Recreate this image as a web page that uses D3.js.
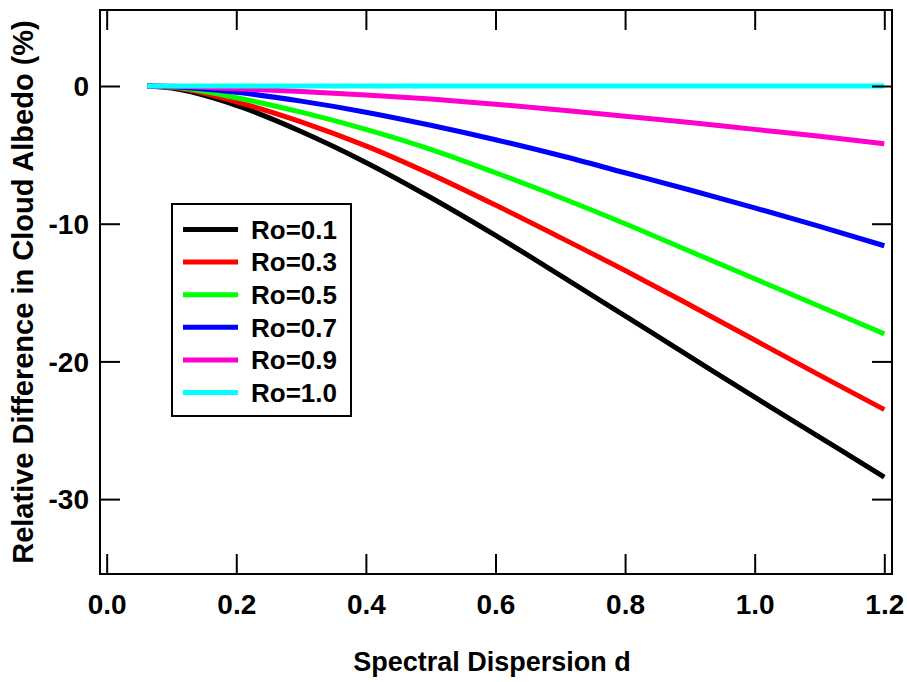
<!DOCTYPE html>
<html>
<head>
<meta charset="utf-8">
<script src="https://cdn.jsdelivr.net/npm/d3@7"></script>
<style>
  html, body { margin: 0; padding: 0; background: #fff; }
  svg { display: block; }
  text { font-family: Arial, "Liberation Sans", Helvetica, sans-serif; font-weight: bold; fill: #000; }
</style>
</head>
<body>
<svg id="chart" width="907" height="682"></svg>
<script>
// ---- data ----
const dispersion = [0.0625, 0.1, 0.2, 0.3, 0.4, 0.5, 0.6, 0.7, 0.8, 0.9, 1.0, 1.1, 1.2];
const seriesNames = ["Ro=0.1", "Ro=0.3", "Ro=0.5", "Ro=0.7", "Ro=0.9", "Ro=1.0"];
const ro01 = [0, -0.15, -1.4, -3.3, -5.55, -8.1, -10.85, -13.75, -16.7, -19.65, -22.6, -25.5, -28.4];
const ro03 = [0, -0.1, -1.15, -2.6, -4.35, -6.4, -8.65, -11.0, -13.4, -15.9, -18.45, -21.0, -23.5];
const ro05 = [0, -0.08, -0.85, -1.9, -3.15, -4.6, -6.3, -8.1, -10.0, -12.0, -14.0, -16.0, -18.0];
const ro07 = [0, -0.05, -0.45, -1.1, -1.9, -2.85, -3.9, -5.05, -6.3, -7.55, -8.85, -10.2, -11.6];
const ro09 = [0, -0.02, -0.2, -0.4, -0.65, -0.95, -1.32, -1.75, -2.2, -2.65, -3.15, -3.65, -4.2];
const ro10 = [0, 0, 0, 0, 0, 0, 0, 0, 0, 0, 0, 0, 0];
const seriesValues = [ro01, ro03, ro05, ro07, ro09, ro10];
const seriesColors = ["#000000", "#ff0000", "#00ff00", "#0000ff", "#ff00cc", "#00ffff"];
const xTicks = [0.0, 0.2, 0.4, 0.6, 0.8, 1.0, 1.2];
const xTickLabels = ["0.0", "0.2", "0.4", "0.6", "0.8", "1.0", "1.2"];
const yTicks = [0, -10, -20, -30];
const yTickLabels = ["0", "-10", "-20", "-30"];
const xTitle = "Spectral Dispersion d";
const yTitle = "Relative Difference in Cloud Albedo (%)";

// ---- layout ----
const plotLeft = 100, plotRight = 892, plotTop = 10, plotBottom = 574;
const svg = d3.select("#chart");
const x = d3.scaleLinear().domain([-0.0103, 1.2119]).range([plotLeft, plotRight]);
const y = d3.scaleLinear().domain([-35.44, 5.52]).range([plotBottom, plotTop]);

// series lines
const line = d3.line()
  .x((d, i) => x(dispersion[i]))
  .y(d => y(d))
  .curve(d3.curveMonotoneX);

svg.append("g").selectAll("path")
  .data(seriesValues)
  .join("path")
  .attr("d", d => line(d))
  .attr("fill", "none")
  .attr("stroke", (d, i) => seriesColors[i])
  .attr("stroke-width", 5);

// axes with inward ticks
const tickLen = 20;
const gB = svg.append("g").attr("transform", `translate(0,${plotBottom})`)
  .call(d3.axisBottom(x).tickValues(xTicks).tickSize(-tickLen)
    .tickFormat((d, i) => xTickLabels[i]).tickPadding(20));
const gT = svg.append("g").attr("transform", `translate(0,${plotTop})`)
  .call(d3.axisTop(x).tickValues(xTicks).tickSize(-tickLen).tickFormat(""));
const gL = svg.append("g").attr("transform", `translate(${plotLeft},0)`)
  .call(d3.axisLeft(y).tickValues(yTicks).tickSize(-tickLen).tickFormat((d, i) => yTickLabels[i]));
const gR = svg.append("g").attr("transform", `translate(${plotRight},0)`)
  .call(d3.axisRight(y).tickValues(yTicks).tickSize(-tickLen).tickFormat(""));

[gB, gT, gL, gR].forEach(g => {
  g.select(".domain").remove();
  g.selectAll(".tick line").attr("stroke", "#000").attr("stroke-width", 2);
  g.selectAll("text").attr("font-size", 28).attr("font-family", "Arial, 'Liberation Sans', sans-serif").attr("font-weight", "bold").attr("fill", "#000");
});
gL.selectAll(".tick text").attr("x", -11).attr("dy", "0.35em");

// frame
svg.append("rect")
  .attr("x", plotLeft).attr("y", plotTop)
  .attr("width", plotRight - plotLeft).attr("height", plotBottom - plotTop)
  .attr("fill", "none").attr("stroke", "#000").attr("stroke-width", 2);

// axis titles
svg.append("text")
  .attr("x", 492).attr("y", 671)
  .attr("text-anchor", "middle")
  .attr("font-size", 27)
  .text(xTitle);
svg.append("text")
  .attr("transform", "translate(33,292) rotate(-90)")
  .attr("text-anchor", "middle")
  .attr("font-size", 29)
  .text(yTitle);

// legend
const lg = svg.append("g");
lg.append("rect")
  .attr("x", 172).attr("y", 204)
  .attr("width", 179).attr("height", 212)
  .attr("fill", "#fff").attr("stroke", "#000").attr("stroke-width", 2);
const rowY0 = 229.5, rowStep = 32.6;
const rows = lg.selectAll("g.row").data(seriesNames).join("g").attr("class", "row")
  .attr("transform", (d, i) => `translate(0,${rowY0 + i * rowStep})`);
rows.append("line")
  .attr("x1", 183).attr("x2", 238).attr("y1", 0).attr("y2", 0)
  .attr("stroke", (d, i) => seriesColors[i]).attr("stroke-width", 5);
rows.append("text")
  .attr("x", 251).attr("y", 0).attr("dy", "0.36em")
  .attr("font-size", 26)
  .text(d => d);
</script>
</body>
</html>
